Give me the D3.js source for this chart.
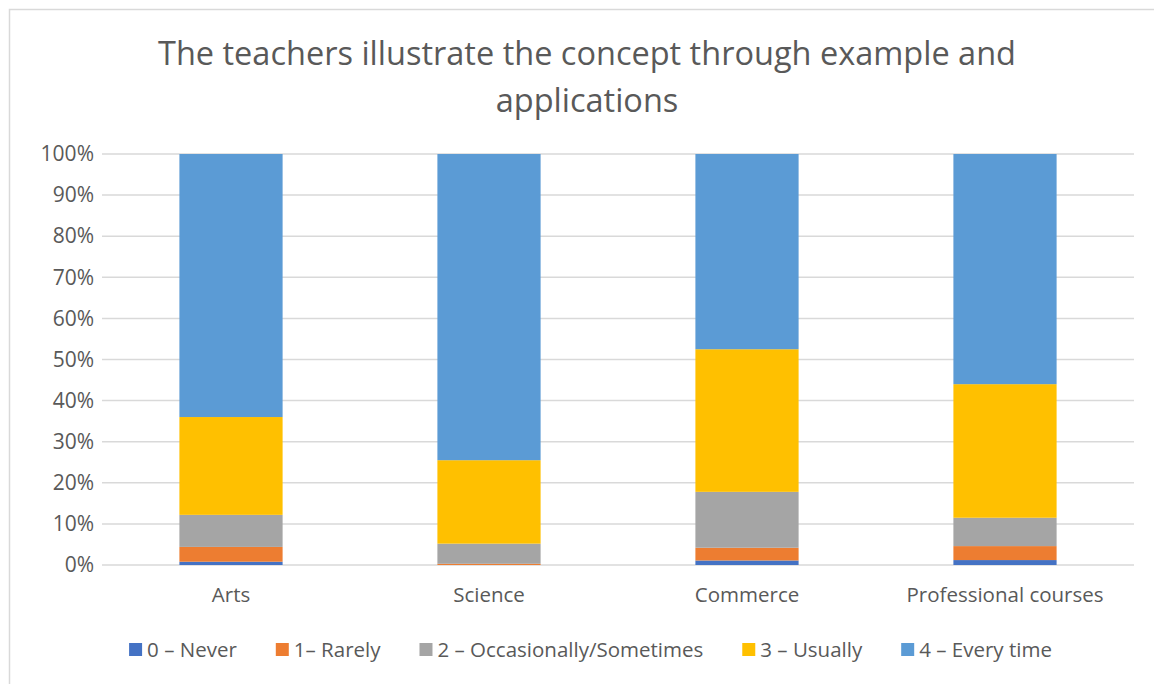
<!DOCTYPE html>
<html>
<head>
<meta charset="utf-8">
<script src="https://cdn.jsdelivr.net/npm/d3@7"></script>
<style>
  body { margin: 0; background: #fff; }
  text { font-family: "Open Sans", "Liberation Sans", sans-serif; fill: #595959; }
</style>
</head>
<body>
<div id="chart"></div>
<script>
var svgWidth = 1154;
var svgHeight = 684;

var categories = ["Arts", "Science", "Commerce", "Professional courses"];
var seriesNames = ["0 \u2013 Never", "1\u2013 Rarely", "2 \u2013 Occasionally/Sometimes", "3 \u2013 Usually", "4 \u2013 Every time"];
var seriesColors = ["#4472c4", "#ed7d31", "#a5a5a5", "#ffc000", "#5b9bd5"];

// percentage share of each answer, per category
var never = [0.8, 0.0, 1.1, 1.2];
var rarely = [3.6, 0.3, 3.1, 3.4];
var sometimes = [7.8, 4.9, 13.6, 6.9];
var usually = [23.8, 20.3, 34.7, 32.5];
var everyTime = [64.0, 74.5, 47.5, 56.0];

var yTicks = [0, 10, 20, 30, 40, 50, 60, 70, 80, 90, 100];

var margin = { top: 154, right: 20, bottom: 119, left: 102 };
var width = 1134 - margin.left;
var height = 565 - margin.top;

var svg = d3.select("#chart")
  .append("svg")
  .attr("width", svgWidth)
  .attr("height", svgHeight);

// outer frame
svg.append("rect")
  .attr("x", 9.5)
  .attr("y", 9.5)
  .attr("width", svgWidth)
  .attr("height", svgHeight)
  .attr("fill", "none")
  .attr("stroke", "#d9d9d9")
  .attr("stroke-width", 1.5);

svg.append("text")
  .attr("x", svgWidth / 2 + 10)
  .attr("y", 65)
  .attr("text-anchor", "middle")
  .style("font-size", "32.5px")
  .text("The teachers illustrate the concept through example and");
svg.append("text")
  .attr("x", svgWidth / 2 + 10)
  .attr("y", 112)
  .attr("text-anchor", "middle")
  .style("font-size", "32.5px")
  .text("applications");

var chartGroup = svg.append("g")
  .attr("transform", `translate(${margin.left}, ${margin.top})`);

var xScale = d3.scaleBand()
  .domain(categories)
  .range([0, width])
  .paddingInner(0.6)
  .paddingOuter(0.3);

var yScale = d3.scaleLinear()
  .domain([0, 100])
  .range([height, 0]);

// gridlines
chartGroup.selectAll(".grid")
  .data(yTicks)
  .enter()
  .append("line")
  .attr("x1", 0)
  .attr("x2", width)
  .attr("y1", d => yScale(d))
  .attr("y2", d => yScale(d))
  .attr("stroke", "#d9d9d9")
  .attr("stroke-width", 1.5);

var leftAxis = d3.axisLeft(yScale)
  .tickValues(yTicks)
  .tickFormat(d => d + "%")
  .tickSize(0)
  .tickPadding(8);

var yAxis = chartGroup.append("g").call(leftAxis);
yAxis.select(".domain").remove();
yAxis.selectAll("text")
  .style("font-size", "21px")
  .style("fill", "#595959");

var bottomAxis = d3.axisBottom(xScale).tickSize(0).tickPadding(22);
var xAxis = chartGroup.append("g")
  .attr("transform", `translate(0, ${height})`)
  .call(bottomAxis);
xAxis.select(".domain").remove();
xAxis.selectAll("text")
  .style("font-size", "20.5px")
  .style("fill", "#595959");

// stacked bars
var rows = categories.map(function(c, i) {
  return { cat: c, s0: never[i], s1: rarely[i], s2: sometimes[i], s3: usually[i], s4: everyTime[i] };
});
var keys = ["s0", "s1", "s2", "s3", "s4"];
var stacked = d3.stack().keys(keys)(rows);

chartGroup.selectAll(".series")
  .data(stacked)
  .enter()
  .append("g")
  .attr("fill", (d, i) => seriesColors[i])
  .selectAll("rect")
  .data(d => d)
  .enter()
  .append("rect")
  .attr("x", d => xScale(d.data.cat))
  .attr("width", xScale.bandwidth())
  .attr("y", d => yScale(d[1]))
  .attr("height", d => yScale(d[0]) - yScale(d[1]));

// legend
var legendGap = 39;
var legend = svg.append("g").attr("transform", "translate(0, 650)");
var items = legend.selectAll("g")
  .data(seriesNames)
  .enter()
  .append("g");
items.append("rect")
  .attr("x", 0)
  .attr("y", -7)
  .attr("width", 13)
  .attr("height", 13)
  .attr("fill", (d, i) => seriesColors[i]);
items.append("text")
  .attr("x", 18)
  .attr("dy", "0.35em")
  .style("font-size", "20.5px")
  .text(d => d);

var xPos = 0;
var offsets = [];
items.each(function() {
  offsets.push(xPos);
  var w = d3.select(this).select("text").node().getComputedTextLength();
  xPos += 18 + w + legendGap;
});
var total = xPos - legendGap;
var startX = 122 + (937 - total) / 2;
items.attr("transform", (d, i) => `translate(${startX + offsets[i]}, 0)`);
</script>
</body>
</html>
